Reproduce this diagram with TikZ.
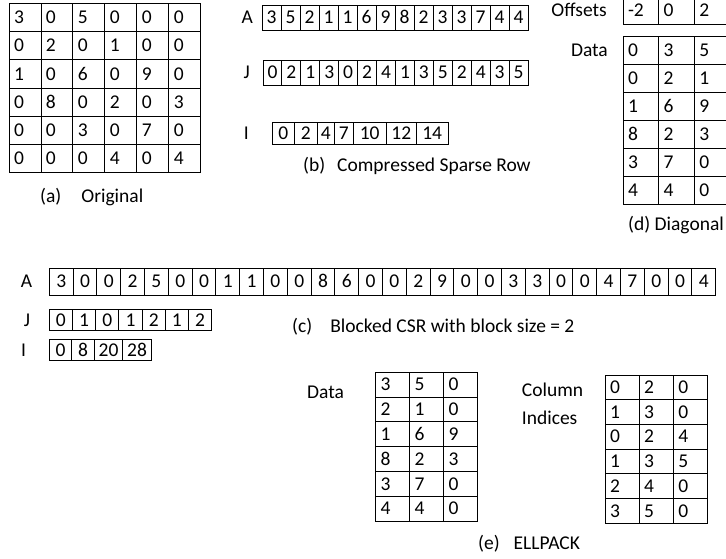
\documentclass[tikz,border=0pt]{standalone}
\usepackage{fontspec}
\setmainfont{Carlito}
\usetikzlibrary{positioning}

\newcommand{\tabfont}{\fontsize{19.5}{23}\selectfont}

\begin{document}
\begin{tikzpicture}[
    x=1pt, y=-1pt,
    every node/.style={font=\tabfont},
    tcell/.style={draw, line width=0.9pt, outer sep=0pt, inner ysep=0pt, inner xsep=5pt, align=left, text height=12.3pt, text depth=0pt},
    ocell/.style={tcell, text width=21.95pt, minimum height=28.25pt},
    dcell/.style={tcell, text width=25.7pt, minimum height=27.95pt},
    ecell/.style={tcell, text width=23.9pt, minimum height=24.8pt},
    slot/.style={draw, line width=0.9pt, outer sep=0pt, inner sep=0pt, anchor=west, text height=12.3pt, text depth=0pt},
    rowname/.style={inner sep=0pt},
    caption/.style={anchor=west, inner sep=0pt}
]
    \clip (0,0) rectangle (726,558);

    % (a) original matrix
    \foreach \row [count=\r] in {{3,0,5,0,0,0},{0,2,0,1,0,0},{1,0,6,0,9,0},{0,8,0,2,0,3},{0,0,3,0,7,0},{0,0,0,4,0,4}}
        \foreach \v [count=\c] in \row
            \node[ocell] (orig-\r-\c) at ({9+(\c-0.5)*31.95},{3.3+(\r-0.5)*28.25}) {\v};
    \node[caption] (capA) at (40,197) {(a)\hspace{20pt}Original};

    % (b) compressed sparse row
    \foreach \v [count=\c] in {3,5,2,1,1,6,9,8,2,3,3,7,4,4}
        \node[slot, minimum width=19pt, minimum height=25pt] (csrA-\c) at ({262+(\c-1)*19},17.5) {\v};
    \foreach \v [count=\c] in {0,2,1,3,0,2,4,1,3,5,2,4,3,5}
        \node[slot, minimum width=18.93pt, minimum height=25pt] (csrJ-\c) at ({263+(\c-1)*18.93},72.5) {\v};
    \node[slot, minimum width=22.7pt, minimum height=22pt] (csrI-1) at (272,133) {0};
    \node[slot, minimum width=22.3pt, minimum height=22pt, right=0pt of csrI-1] (csrI-2) {2};
    \node[slot, minimum width=17.7pt, minimum height=22pt, right=0pt of csrI-2] (csrI-3) {4};
    \node[slot, minimum width=18.3pt, minimum height=22pt, right=0pt of csrI-3] (csrI-4) {7};
    \node[slot, minimum width=33.3pt, minimum height=22pt, right=0pt of csrI-4] (csrI-5) {10};
    \node[slot, minimum width=30pt, minimum height=22pt, right=0pt of csrI-5] (csrI-6) {12};
    \node[slot, minimum width=31.7pt, minimum height=22pt, right=0pt of csrI-6] (csrI-7) {14};
    \node[rowname, left=9pt of csrA-1] (csrAname) {A};
    \node[rowname, left=13pt of csrJ-1] (csrJname) {J};
    \node[rowname, left=23pt of csrI-1] (csrIname) {I};
    \node[caption] (capB) at (303,166) {(b)\hspace{12pt}Compressed Sparse Row};

    % (c) blocked CSR
    \foreach \v [count=\c] in {3,0,0,2,5,0,0,1,1,0,0,8,6,0,0,2,9,0,0,3,3,0,0,4,7,0,0,4}
        \node[slot, minimum width=23.8pt, minimum height=27pt] (bcsrA-\c) at ({49.3+(\c-1)*23.8},281.5) {\v};
    \foreach \v [count=\c] in {0,1,0,1,2,1,2}
        \node[slot, minimum width=23.2pt, minimum height=21pt] (bcsrJ-\c) at ({49.3+(\c-1)*23.2},320) {\v};
    \node[slot, minimum width=22.5pt, minimum height=21pt] (bcsrI-1) at (49.3,350) {0};
    \node[slot, minimum width=22.5pt, minimum height=21pt, right=0pt of bcsrI-1] (bcsrI-2) {8};
    \node[slot, minimum width=28.5pt, minimum height=21pt, right=0pt of bcsrI-2] (bcsrI-3) {20};
    \node[slot, minimum width=28.5pt, minimum height=21pt, right=0pt of bcsrI-3] (bcsrI-4) {28};
    \node[rowname, left=17pt of bcsrA-1] (bcsrAname) {A};
    \node[rowname, left=19pt of bcsrJ-1] (bcsrJname) {J};
    \node[rowname, left=23pt of bcsrI-1] (bcsrIname) {I};
    \node[caption] (capC) at (292,327) {(c)\hspace{18pt}Blocked CSR with block size = 2};

    % (d) diagonal
    \foreach \v [count=\c] in {-2,0,2}
        \node[dcell] (off-\c) at ({623+(\c-0.5)*35.7},10) {\v};
    \foreach \row [count=\r] in {{0,3,5},{0,2,1},{1,6,9},{8,2,3},{3,7,0},{4,4,0}}
        \foreach \v [count=\c] in \row
            \node[dcell] (diag-\r-\c) at ({623+(\c-0.5)*35.7},{36.7+(\r-0.5)*27.9}) {\v};
    \node[rowname, left=16pt of off-1] (offname) {Offsets};
    \node[rowname, left=15pt of diag-1-1] (diagname) {Data};
    \node[caption] (capD) at (628,225) {(d) Diagonal};

    % (e) ELLPACK
    \foreach \row [count=\r] in {{3,5,0},{2,1,0},{1,6,9},{8,2,3},{3,7,0},{4,4,0}}
        \foreach \v [count=\c] in \row
            \node[ecell] (ell-\r-\c) at ({375.7+(\c-0.5)*33.9},{372.3+(\r-0.5)*24.8}) {\v};
    \foreach \row [count=\r] in {{0,2,0},{1,3,0},{0,2,4},{1,3,5},{2,4,0},{3,5,0}}
        \foreach \v [count=\c] in \row
            \node[ecell] (idx-\r-\c) at ({605+(\c-0.5)*34.1},{375+(\r-0.5)*24.7}) {\v};
    \node[rowname, anchor=west] (ellname) at (307,392) {Data};
    \node[rowname, anchor=north west, align=left, font=\fontsize{19.5}{28}\selectfont] (idxname) at (521.7,383) {Column\\Indices};
    \node[caption] (capE) at (478,544) {(e)\hspace{14pt}ELLPACK};
\end{tikzpicture}
\end{document}
